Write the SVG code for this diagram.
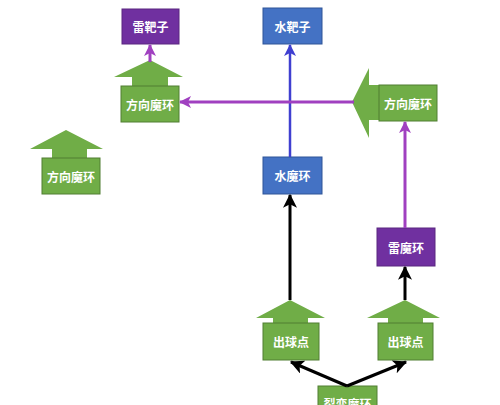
<svg xmlns="http://www.w3.org/2000/svg" width="500" height="405" viewBox="0 0 500 405">
<style>
.bg{fill:#fff}
.g{fill:#70AD47;stroke:#507E32;stroke-width:1}
.ga{fill:#70AD47}
.p{fill:#7030A0;stroke:#5A2680;stroke-width:1}
.b{fill:#4472C4;stroke:#2F5597;stroke-width:1}
.t{fill:#fff;font-family:"Noto Sans CJK SC","Noto Sans",sans-serif;font-size:12px;font-weight:bold;text-anchor:middle;dominant-baseline:central}
.lp{stroke:#A040C0;stroke-width:3;fill:none}
.lb{stroke:#3F3FD0;stroke-width:2.5;fill:none}
.lk{stroke:#000;stroke-width:3;fill:none}
</style>
<defs>
<marker id="mp" markerWidth="12" markerHeight="12" viewBox="0 0 12 12" refX="11" refY="6" orient="auto" markerUnits="userSpaceOnUse"><path d="M0,0 L12,6 L0,12 L3,6 Z" fill="#A040C0"/></marker>
<marker id="mb" markerWidth="12" markerHeight="12" viewBox="0 0 12 12" refX="11" refY="6" orient="auto" markerUnits="userSpaceOnUse"><path d="M0,0 L12,6 L0,12 L3,6 Z" fill="#3F3FD0"/></marker>
<marker id="mk" markerWidth="14" markerHeight="14" viewBox="0 0 12 12" refX="11" refY="6" orient="auto" markerUnits="userSpaceOnUse"><path d="M0,0 L12,6 L0,12 L3,6 Z" fill="#000"/></marker>
</defs>
<rect class="bg" width="500" height="405"/>

<g id="node-leibazi">
<rect class="p" x="122" y="9" width="57" height="35"/>
<text class="t" x="150.5" y="26.5">雷靶子</text>
</g>
<g id="node-shuibazi">
<rect class="b" x="263" y="8" width="59" height="36"/>
<text class="t" x="292.5" y="26">水靶子</text>
</g>
<g id="node-fangxiang-1">
<polygon class="ga" points="150,60 183,77 168,77 168,86 132,86 132,77 114,77"/>
<rect class="g" x="121" y="86" width="58" height="36"/>
<text class="t" x="150" y="104">方向魔环</text>
</g>
<g id="node-fangxiang-2">
<polygon class="ga" points="352,102 369,68 369,85 379,85 379,120 369,120 369,138"/>
<rect class="g" x="379" y="85" width="58" height="36"/>
<text class="t" x="408" y="103">方向魔环</text>
</g>
<g id="node-fangxiang-3">
<polygon class="ga" points="66,130 103,149 87,149 87,158 52,158 52,149 30,149"/>
<rect class="g" x="42" y="158" width="58" height="36"/>
<text class="t" x="71" y="176">方向魔环</text>
</g>
<g id="node-shuimohuan">
<rect class="b" x="263" y="157" width="59" height="37"/>
<text class="t" x="292.5" y="175.5">水魔环</text>
</g>
<g id="node-leimohuan">
<rect class="p" x="377" y="228" width="58" height="38"/>
<text class="t" x="406" y="247">雷魔环</text>
</g>
<g id="node-chuqiu-1">
<polygon class="ga" points="290,300 325,318 308,318 308,323 273,323 273,318 256,318"/>
<rect class="g" x="263" y="323" width="56" height="37"/>
<text class="t" x="291" y="341.5">出球点</text>
</g>
<g id="node-chuqiu-2">
<polygon class="ga" points="405,300 440,318 423,318 423,323 388,323 388,318 367,318"/>
<rect class="g" x="378" y="323" width="55" height="37"/>
<text class="t" x="405.5" y="341.5">出球点</text>
</g>
<g id="node-liebian">
<rect class="g" x="318" y="386" width="59" height="36"/>
<text class="t" x="347.5" y="403">裂变魔环</text>
</g>

<g id="connectors">
<line class="lp" x1="150" y1="62" x2="150" y2="45" marker-end="url(#mp)"/>
<line class="lb" x1="290" y1="157" x2="290" y2="45" marker-end="url(#mb)"/>
<line class="lp" x1="354" y1="102" x2="180" y2="102" marker-end="url(#mp)"/>
<line class="lp" x1="405" y1="228" x2="405" y2="122" marker-end="url(#mp)"/>
<line class="lk" x1="290" y1="300" x2="290" y2="195" marker-end="url(#mk)"/>
<line class="lk" x1="405" y1="300" x2="405" y2="267" marker-end="url(#mk)"/>
<line class="lk" x1="347" y1="386" x2="291" y2="362" marker-end="url(#mk)"/>
<line class="lk" x1="347" y1="386" x2="406" y2="362" marker-end="url(#mk)"/>
</g>
</svg>
